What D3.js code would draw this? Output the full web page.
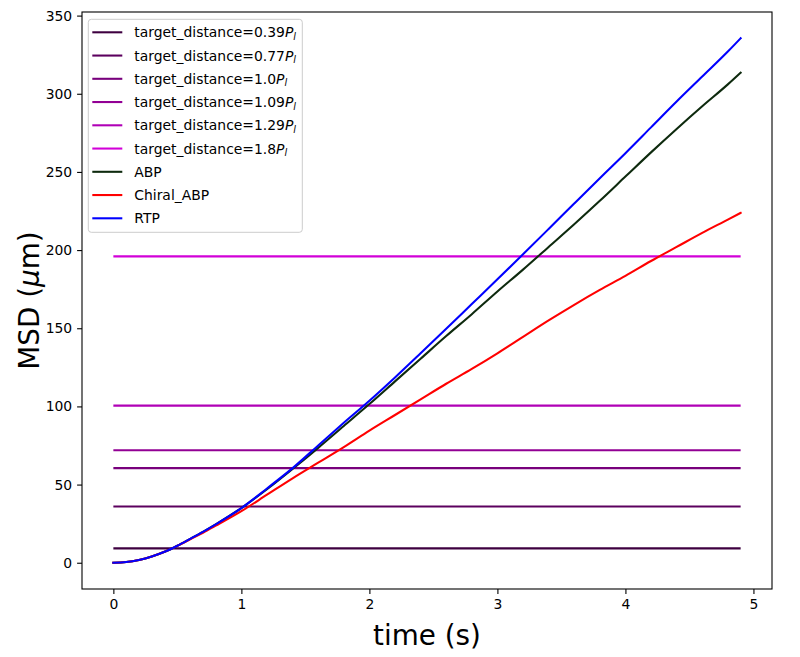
<!DOCTYPE html>
<html><head><meta charset="utf-8">
<script src="https://cdn.jsdelivr.net/npm/d3@7"></script>
<style>body{margin:0;background:#fff}svg{display:block;font-family:"DejaVu Sans",sans-serif}</style>
</head><body><svg id="c" width="800" height="657"></svg>
<script>
// ---- data ----
const targetLabels = ["0.39","0.77","1.0","1.09","1.29","1.8"];
const targetValues = [9.2, 36.0, 60.5, 72.0, 100.5, 196.0];
const targetColors = ["#3e0040","#5c005e","#78007c","#920094","#b000b6","#d200d8"];
const timeStart = 0, timeEnd = 4.9;
const time = [0,0.1,0.2,0.3,0.4,0.5,0.6,0.7,0.8,1.0,1.2,1.4,1.6,1.8,2.0,2.2,2.4,2.6,2.8,3.0,3.2,3.4,3.6,3.8,4.0,4.2,4.4,4.6,4.8,4.9];
const abp    = [0,0.45,1.8,4.0,7.0,10.9,15.3,19.8,24.6,35,47,60,73.5,87.5,101.5,116,130.5,145,159,173.5,187.5,202,216.5,231.5,247,262.5,277.5,292,306,313.5];
const chiral = [0,0.45,1.8,4.0,7.0,10.8,15.0,19.2,23.7,33,43.5,54,64,74,84.5,94.5,104.5,114.5,124,134,144.5,155,165,174.5,183.5,193,202,211,219.5,223.8];
const rtp    = [0,0.45,1.8,4.0,7.0,10.9,15.3,19.8,24.6,35,47.5,60.5,75,89.5,103.6,118.5,134,149.7,165.5,181.3,197.3,213.5,229.8,246,262,278.5,295,311,327,335.5];
const seriesNames = ["ABP","Chiral_ABP","RTP"];
const seriesColors = ["#0e2a0e","#ff0000","#0000ff"];
const xTicks = [0,1,2,3,4,5];
const yTicks = [0,50,100,150,200,250,300,350];

// ---- layout ----
const L=82, R=772, T=12, B=589;
const svg = d3.select("#c");
const x = d3.scaleLinear().domain([-0.245, 5.145]).range([L, R]);
const y = d3.scaleLinear().domain([-16.8, 352.3]).range([B, T]);

const g = svg.append("g");
targetValues.forEach((v,i)=>{
  g.append("path").attr("d", d3.line()([[x(timeStart),y(v)],[x(timeEnd),y(v)]]))
   .attr("stroke", targetColors[i]).attr("stroke-width",2.08).attr("fill","none");
});
const series = [abp, chiral, rtp];
const line = d3.line().x((d,i)=>x(time[i])).y(d=>y(d)).curve(d3.curveMonotoneX);
series.forEach((s,i)=>{
  g.append("path").datum(s).attr("d", line).attr("stroke", seriesColors[i])
   .attr("stroke-width",2.08).attr("fill","none").attr("stroke-linejoin","round").attr("stroke-linecap","square");
});

// axes
const xa = svg.append("g").attr("transform",`translate(0,${B})`)
  .call(d3.axisBottom(x).tickValues(xTicks).tickSize(4.9).tickPadding(4.9).tickFormat(d3.format("d")));
const ya = svg.append("g").attr("transform",`translate(${L},0)`)
  .call(d3.axisLeft(y).tickValues(yTicks).tickSize(4.9).tickPadding(4.9).tickFormat(d3.format("d")));
[xa,ya].forEach(a=>{
  a.select(".domain").remove();
  a.selectAll("text").attr("font-size","13.9px").attr("font-family","DejaVu Sans").attr("fill","#000");
  a.selectAll("line").attr("stroke","#000").attr("stroke-width",1.1);
});
svg.append("rect").attr("x",L).attr("y",T).attr("width",R-L).attr("height",B-T)
  .attr("fill","none").attr("stroke","#000").attr("stroke-width",1.1);

// axis labels
svg.append("text").attr("x",(L+R)/2).attr("y",645).attr("text-anchor","middle")
  .attr("font-size","27.8px").text("time (s)");
const yl = svg.append("text").attr("transform",`translate(39,${(T+B)/2}) rotate(-90)`)
  .attr("text-anchor","middle").attr("font-size","27.8px");
yl.append("tspan").text("MSD (");
yl.append("tspan").attr("font-style","italic").text("\u03bc");
yl.append("tspan").text("m)");

// legend
const lg = svg.append("g");
lg.append("rect").attr("x",88.3).attr("y",19.3).attr("width",214).attr("height",213)
  .attr("rx",3).attr("fill","#fff").attr("fill-opacity",0.8).attr("stroke","#cccccc").attr("stroke-width",1);
const entries = targetLabels.map((l,i)=>({type:"t",label:l,color:targetColors[i]}))
  .concat(seriesNames.map((n,i)=>({type:"s",label:n,color:seriesColors[i]})));
entries.forEach((e,i)=>{
  const yy = 32.3 + i*23.25;
  lg.append("line").attr("x1",92.3).attr("x2",122.3).attr("y1",yy).attr("y2",yy)
    .attr("stroke",e.color).attr("stroke-width",2.08);
  const t = lg.append("text").attr("x",134.3).attr("y",yy+5).attr("font-size","13.9px");
  if(e.type==="t"){
    t.append("tspan").text("target_distance="+e.label);
    t.append("tspan").attr("font-style","italic").text("P");
    t.append("tspan").attr("font-style","italic").attr("font-size","9.7px").attr("dy",2.5).text("l");
  } else t.text(e.label);
});
</script></body></html>
